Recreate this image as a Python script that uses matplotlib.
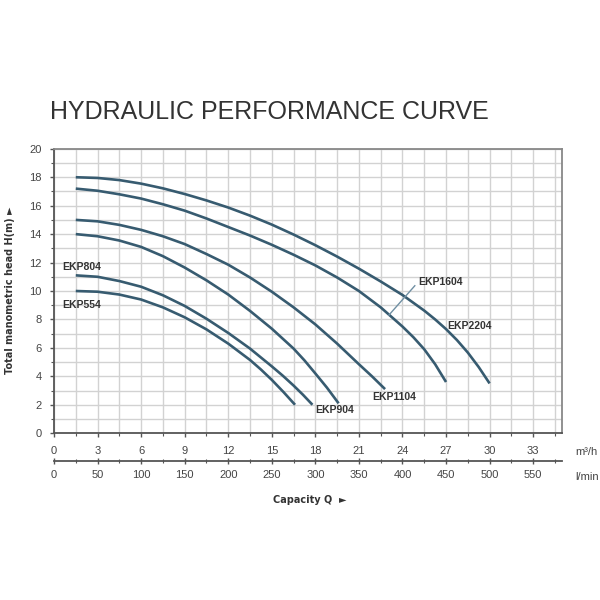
import matplotlib
matplotlib.use("Agg")
import matplotlib.pyplot as plt
from matplotlib.ticker import MultipleLocator

# Capacity (m3/h) and head (m), one pair of lists per pump
q_2204 = [1.5, 3, 4.5, 6, 7.5, 9, 10.5, 12, 13.5, 15, 16.5, 18, 19.5, 21, 22.5, 24, 25.5, 26.25, 27, 27.75, 28.5, 29.25, 30]
h_2204 = [18.0, 17.95, 17.8, 17.55, 17.22, 16.82, 16.37, 15.87, 15.3, 14.67, 13.97, 13.22, 12.42, 11.57, 10.67, 9.72, 8.62, 8.0, 7.32, 6.55, 5.67, 4.65, 3.5]

q_1604 = [1.5, 3, 4.5, 6, 7.5, 9, 10.5, 12, 13.5, 15, 16.5, 18, 19.5, 21, 22.5, 24, 24.75, 25.5, 26.25, 27]
h_1604 = [17.2, 17.05, 16.8, 16.5, 16.1, 15.65, 15.1, 14.5, 13.9, 13.25, 12.55, 11.8, 10.95, 10.0, 8.85, 7.5, 6.75, 5.9, 4.85, 3.6]

q_1104 = [1.5, 3, 4.5, 6, 7.5, 9, 10.5, 12, 13.5, 15, 16.5, 18, 19.5, 21, 21.9, 22.8]
h_1104 = [15.0, 14.9, 14.65, 14.3, 13.85, 13.3, 12.6, 11.85, 10.95, 9.95, 8.85, 7.65, 6.3, 4.85, 4.0, 3.1]

q_904 = [1.5, 3, 4.5, 6, 7.5, 9, 10.5, 12, 13.5, 15, 16.5, 17.25, 18, 18.8, 19.6]
h_904 = [14.0, 13.85, 13.55, 13.1, 12.45, 11.65, 10.75, 9.75, 8.6, 7.35, 5.95, 5.12, 4.2, 3.2, 2.1]

q_804 = [1.5, 3, 4.5, 6, 7.5, 9, 10.5, 12, 13.5, 15, 15.75, 16.5, 17.15, 17.8]
h_804 = [11.1, 11.0, 10.7, 10.3, 9.7, 8.95, 8.05, 7.05, 5.95, 4.7, 4.05, 3.35, 2.7, 2.0]

q_554 = [1.5, 3, 4.5, 6, 7.5, 9, 10.5, 12, 13.5, 14.25, 15, 15.8, 16.6]
h_554 = [10.0, 9.95, 9.75, 9.4, 8.85, 8.15, 7.3, 6.3, 5.15, 4.48, 3.75, 2.9, 2.0]

curves = [(q_2204, h_2204), (q_1604, h_1604), (q_1104, h_1104),
          (q_904, h_904), (q_804, h_804), (q_554, h_554)]

# pump names and where their labels sit (data coords)
names = ["EKP804", "EKP554", "EKP904", "EKP1104", "EKP1604", "EKP2204"]
label_x = [0.55, 0.55, 18.0, 21.9, 25.1, 27.1]
label_y = [11.7, 9.0, 1.6, 2.55, 10.6, 7.55]

line_col = "#375b70"
grid_col = "#d2d2d2"
axis_col = "#555555"
text_col = "#333333"

fig = plt.figure(figsize=(6, 6), dpi=100)
ax = fig.add_axes([0.09, 0.278, 0.847, 0.474])

for q, h in curves:
    ax.plot(q, h, color=line_col, lw=1.9, solid_capstyle="butt", solid_joinstyle="round")

for name, lx, ly in zip(names, label_x, label_y):
    ax.text(lx, ly, name, fontsize=7.5, fontweight="bold", color=text_col,
            ha="left", va="center", family="Liberation Sans")

# leader line for EKP1604
ax.plot([24.85, 23.06], [10.37, 8.3], color="#6f8fa3", lw=1.0)

ax.set_xlim(0, 35)
ax.set_ylim(0, 20)
ax.xaxis.set_major_locator(MultipleLocator(3))
ax.xaxis.set_minor_locator(MultipleLocator(1.5))
ax.yaxis.set_major_locator(MultipleLocator(2))
ax.yaxis.set_minor_locator(MultipleLocator(1))
ax.grid(True, which="both", color=grid_col, lw=1.0)
ax.set_axisbelow(True)

for s in ax.spines.values():
    s.set_color(axis_col)
    s.set_linewidth(1.3)
ax.spines["top"].set_color("#888888")
ax.spines["right"].set_color("#888888")

ax.tick_params(which="major", direction="out", length=3, width=1, color=axis_col,
               labelsize=8, labelcolor="#444444", pad=6)
ax.tick_params(which="minor", direction="out", length=2, width=0.8, color=axis_col)
for lab in ax.get_xticklabels() + ax.get_yticklabels():
    lab.set_family("Liberation Sans")

# second capacity scale in l/min (3 m3/h = 50 l/min)
sec = ax.secondary_xaxis(-0.0986, functions=(lambda q: q * 50 / 3, lambda l: l * 3 / 50))
sec.xaxis.set_major_locator(MultipleLocator(50))
sec.xaxis.set_minor_locator(MultipleLocator(25))
sec.spines["bottom"].set_color(axis_col)
sec.spines["bottom"].set_linewidth(1.3)
sec.tick_params(which="major", direction="inout", length=4, width=1, color=axis_col,
                labelsize=8, labelcolor="#444444", pad=4)
sec.tick_params(which="minor", direction="inout", length=3, width=0.8, color=axis_col)
sec.set_xticks([0, 50, 100, 150, 200, 250, 300, 350, 400, 450, 500, 550])
for lab in sec.get_xticklabels():
    lab.set_family("Liberation Sans")

fig.text(0.958, 1 - 452 / 600, "m³/h", fontsize=8, color="#444444",
         ha="left", va="center", family="Liberation Sans")
fig.text(0.958, 1 - 477 / 600, "l/min", fontsize=8, color="#444444",
         ha="left", va="center", family="Liberation Sans")

fig.text(0.517, 1 - 500 / 600, "Capacity Q  ►", fontsize=7, fontweight="bold",
         color=text_col, ha="center", va="center", family="DejaVu Sans")
fig.text(0.017, 1 - 290 / 600, "Total manometric head H(m) ►", fontsize=7,
         fontweight="bold", color=text_col, ha="center", va="center",
         rotation=90, family="DejaVu Sans")

fig.text(0.083, 1 - 112 / 600, "HYDRAULIC PERFORMANCE CURVE", fontsize=18,
         color=text_col, ha="left", va="center", family="Liberation Sans")

fig.savefig("out.png", dpi=100, facecolor="white")
